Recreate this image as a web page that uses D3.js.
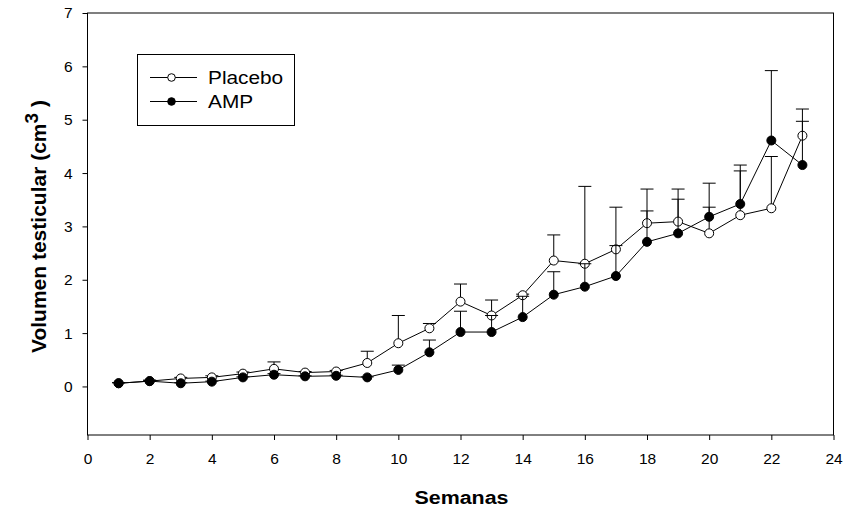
<!DOCTYPE html>
<html>
<head>
<meta charset="utf-8">
<script src="https://cdn.jsdelivr.net/npm/d3@7"></script>
<style>
  html, body { margin: 0; padding: 0; background: #fff; }
  svg { display: block; font-family: "Liberation Sans", Arial, sans-serif; }
</style>
</head>
<body>
<svg id="chart" width="845" height="508"></svg>
<script>
// Weeks of treatment
const weeks = [1,2,3,4,5,6,7,8,9,10,11,12,13,14,15,16,17,18,19,20,21,22,23];

// Mean testicular volume (cm3) and upper error (SD) per week
const placebo = [0.06,0.10,0.15,0.17,0.24,0.33,0.26,0.28,0.44,0.81,1.09,1.59,1.33,1.71,2.36,2.30,2.57,3.06,3.09,2.87,3.21,3.34,4.70];
const placeboErr = [0.01,0.02,0.02,0.03,0.03,0.13,0.02,0.02,0.22,0.52,0.09,0.33,0.29,0.02,0.48,1.45,0.79,0.64,0.61,0.94,0.83,0.97,0.50];

const amp = [0.06,0.10,0.06,0.09,0.17,0.22,0.19,0.20,0.17,0.31,0.64,1.02,1.02,1.30,1.72,1.87,2.07,2.71,2.87,3.18,3.42,4.61,4.15];
const ampErr = [0.01,0.01,0.01,0.01,0.01,0.02,0.01,0.01,0.01,0.09,0.23,0.39,0.31,0.39,0.43,0.43,0.57,0.58,0.64,0.18,0.73,1.31,0.82];

const xTicks = [0,2,4,6,8,10,12,14,16,18,20,22,24];
const yTicks = [0,1,2,3,4,5,6,7];

const svg = d3.select("#chart");
const plotL = 87.5, plotR = 833.5, plotT = 13, plotB = 435;

const x = d3.scaleLinear().domain([0, 24]).range([plotL, plotR]);
const y = d3.scaleLinear().domain([-0.91, 7]).range([plotB, plotT]);

// Frame
svg.append("rect")
  .attr("x", plotL).attr("y", plotT)
  .attr("width", plotR - plotL).attr("height", plotB - plotT)
  .attr("fill", "none").attr("stroke", "#000").attr("stroke-width", 1);

// Axes
const xAxis = svg.append("g")
  .attr("transform", `translate(0,${plotB})`)
  .call(d3.axisBottom(x).tickValues(xTicks).tickSize(5).tickPadding(13).tickFormat(d3.format("d")));
const yAxis = svg.append("g")
  .attr("transform", `translate(${plotL},0)`)
  .call(d3.axisLeft(y).tickValues(yTicks).tickSize(5).tickPadding(10).tickFormat(d3.format("d")));
[xAxis, yAxis].forEach(g => {
  g.select(".domain").remove();
  g.selectAll("line").attr("stroke", "#000");
  g.selectAll("text").attr("fill", "#000").attr("font-size", 15.5)
    .attr("font-family", "'Liberation Sans', Arial, sans-serif");
});

// Axis titles
svg.append("text")
  .attr("transform", `translate(${x(12) + 1},503.5) scale(1.19,1)`)
  .attr("text-anchor", "middle")
  .attr("font-size", 18).attr("font-weight", "bold")
  .text("Semanas");

const yTitle = svg.append("text")
  .attr("transform", `translate(46,353) rotate(-90)`)
  .attr("text-anchor", "start")
  .attr("font-size", 21).attr("font-weight", "bold");
yTitle.append("tspan").text("Volumen testicular (cm");
yTitle.append("tspan").attr("dy", -8).attr("font-size", 19).text("3");
yTitle.append("tspan").attr("dy", 8).text(" )");

// Series
const series = [
  { name: "Placebo", values: placebo, err: placeboErr, fill: "#fff" },
  { name: "AMP", values: amp, err: ampErr, fill: "#000" }
];

const line = d3.line().x(d => x(d.w)).y(d => y(d.v));
const capHalf = 6.5;

series.forEach(s => {
  const pts = weeks.map((w, i) => ({ w, v: s.values[i], e: s.err[i] }));
  const g = svg.append("g");
  // upper error bars
  const eb = g.append("g");
  pts.forEach(p => {
    eb.append("line")
      .attr("x1", x(p.w)).attr("x2", x(p.w))
      .attr("y1", y(p.v)).attr("y2", y(p.v + p.e))
      .attr("stroke", "#000").attr("stroke-width", 1);
    eb.append("line")
      .attr("x1", x(p.w) - capHalf).attr("x2", x(p.w) + capHalf)
      .attr("y1", y(p.v + p.e)).attr("y2", y(p.v + p.e))
      .attr("stroke", "#000").attr("stroke-width", 1);
  });
  s.g = g; s.pts = pts;
});

series.forEach(s => {
  s.g.append("path")
    .datum(s.pts)
    .attr("d", line)
    .attr("fill", "none").attr("stroke", "#000").attr("stroke-width", 1);
});

series.forEach(s => {
  s.g.selectAll("circle")
    .data(s.pts)
    .join("circle")
    .attr("cx", d => x(d.w)).attr("cy", d => y(d.v))
    .attr("r", 4.5)
    .attr("fill", s.fill).attr("stroke", "#000").attr("stroke-width", 1);
});

// Legend
const legend = svg.append("g");
legend.append("rect")
  .attr("x", 137.5).attr("y", 54.5).attr("width", 157).attr("height", 71)
  .attr("fill", "#fff").attr("stroke", "#000").attr("stroke-width", 1);
series.forEach((s, i) => {
  const ly = 77.5 + i * 24;
  legend.append("line")
    .attr("x1", 150).attr("x2", 197).attr("y1", ly).attr("y2", ly)
    .attr("stroke", "#000").attr("stroke-width", 1);
  legend.append("circle")
    .attr("cx", 171.5).attr("cy", ly).attr("r", 3.8)
    .attr("fill", s.fill).attr("stroke", "#000").attr("stroke-width", 1);
  legend.append("text")
    .attr("transform", `translate(208,${ly + 6.5}) scale(1.19,1)`)
    .attr("font-size", 17.5)
    .text(s.name);
});
</script>
</body>
</html>
